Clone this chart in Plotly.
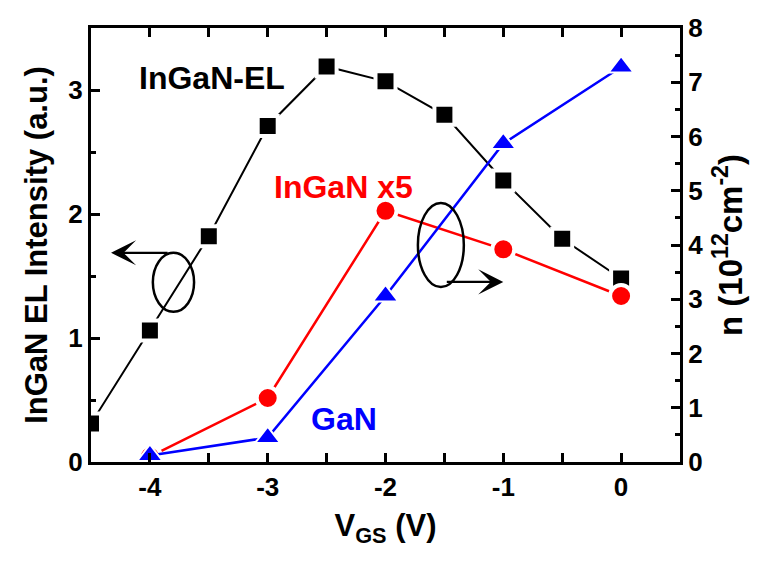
import plotly.graph_objects as go

# ---- data ----
vgs_el = [-4.5, -4.0, -3.5, -3.0, -2.5, -2.0, -1.5, -1.0, -0.5, 0.0]
ingan_el = [0.31, 1.06, 1.82, 2.71, 3.19, 3.07, 2.80, 2.27, 1.80, 1.48]

vgs_n = [-4.0, -3.0, -2.0, -1.0, 0.0]
ingan_x5 = [0.10, 1.18, 4.63, 3.92, 3.06]
gan_n = [0.12, 0.45, 3.06, 5.87, 7.28]

x_tick_vals = [-4, -3, -2, -1, 0]
x_tick_text = ["-4", "-3", "-2", "-1", "0"]
y_tick_vals = [0, 1, 2, 3]
y_tick_text = ["0", "1", "2", "3"]
y2_tick_vals = [0, 1, 2, 3, 4, 5, 6, 7, 8]
y2_tick_text = [str(v) for v in y2_tick_vals]

FONT = "Arial, 'Liberation Sans', sans-serif"

fig = go.Figure()

fig.add_trace(go.Scatter(
    x=vgs_el, y=ingan_el, mode="lines+markers", name="InGaN-EL",
    line=dict(color="black", width=2),
    marker=dict(symbol="square", size=20, color="black",
                line=dict(color="white", width=4)),
    yaxis="y"))

fig.add_trace(go.Scatter(
    x=vgs_n, y=ingan_x5, mode="lines+markers", name="InGaN x5",
    line=dict(color="#ff0000", width=2.5),
    marker=dict(symbol="circle", size=22, color="#ff0000",
                line=dict(color="white", width=4)),
    yaxis="y2"))

fig.add_trace(go.Scatter(
    x=vgs_n, y=gan_n, mode="lines+markers", name="GaN",
    line=dict(color="#0000ff", width=2.5),
    marker=dict(symbol="triangle-up", size=22, color="#0000ff",
                line=dict(color="white", width=2)),
    yaxis="y2"))

tickfont = dict(family=FONT, size=26, color="black", weight="bold")
titlefont = dict(family=FONT, size=31, color="black", weight="bold")
ann_font = dict(family=FONT, size=32, weight="bold")

axis_common = dict(
    showline=True, linecolor="black", linewidth=3,
    ticks="inside", ticklen=9, tickwidth=2.5, tickcolor="black",
    showgrid=False, zeroline=False, tickfont=tickfont, automargin=False,
)

minor_common = dict(dtick=0.5, tick0=0, ticks="inside", ticklen=5,
                    tickwidth=2.5, tickcolor="black")

fig.update_layout(
    width=772, height=563,
    margin=dict(l=83, r=100, t=20, b=109),
    paper_bgcolor="white", plot_bgcolor="white",
    showlegend=False,
    xaxis=dict(
        range=[-4.5, 0.5], tickvals=x_tick_vals, ticktext=x_tick_text,
        mirror="allticks", minor=minor_common,
        title=dict(text="V<sub>GS</sub> (V)", font=titlefont, standoff=14),
        **axis_common),
    yaxis=dict(
        range=[0, 3.5], tickvals=y_tick_vals, ticktext=y_tick_text,
        minor=minor_common,
        title=dict(text="InGaN EL Intensity (a.u.)", font=titlefont, standoff=12),
        **axis_common),
    yaxis2=dict(
        range=[0, 8], tickvals=y2_tick_vals, ticktext=y2_tick_text,
        overlaying="y", side="right", minor=minor_common,
        title=dict(text="n (10<sup>12</sup>cm<sup>-2</sup>)",
                   font=dict(family=FONT, size=33, color="black", weight="bold"),
                   standoff=17),
        **axis_common),
)

# text labels
for txt, xp, yp, col in [("InGaN-EL", 0.205, 0.885, "black"),
                         ("InGaN x5", 0.428, 0.634, "#ff0000"),
                         ("GaN", 0.429, 0.100, "#0000ff")]:
    fig.add_annotation(text=txt, xref="paper", yref="paper", x=xp, y=yp,
                       xanchor="center", yanchor="middle",
                       showarrow=False, font=dict(color=col, **ann_font))

# ellipses
fig.add_shape(type="circle", xref="paper", yref="paper",
              x0=0.105, x1=0.175, y0=0.346, y1=0.482,
              line=dict(color="black", width=2.5))
fig.add_shape(type="circle", xref="paper", yref="paper",
              x0=0.555, x1=0.633, y0=0.403, y1=0.597,
              line=dict(color="black", width=2.5))

# arrows
fig.add_annotation(text="", xref="paper", yref="paper", x=0.034, y=0.482,
                   ax=58, ay=0, showarrow=True, arrowhead=3, arrowsize=1.9,
                   arrowwidth=2.2, arrowcolor="black")
fig.add_annotation(text="", xref="paper", yref="paper", x=0.700, y=0.415,
                   ax=-58, ay=0, showarrow=True, arrowhead=3, arrowsize=1.9,
                   arrowwidth=2.2, arrowcolor="black")

fig.write_html("out.html")
